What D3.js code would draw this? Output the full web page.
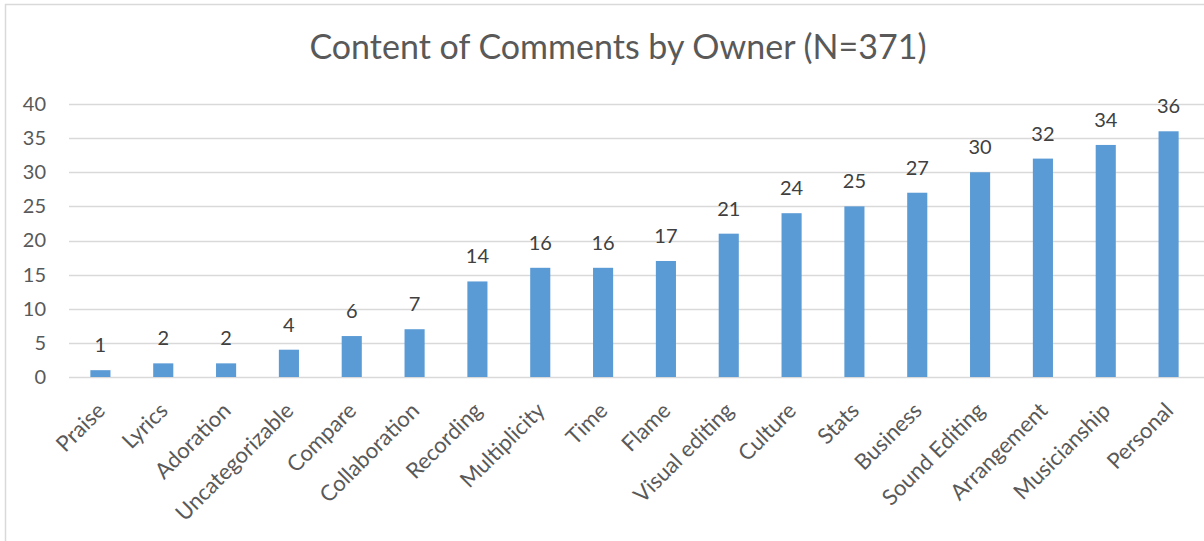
<!DOCTYPE html>
<html>
<head>
<meta charset="utf-8">
<script src="https://cdn.jsdelivr.net/npm/d3@7"></script>
<style>
  html, body { margin: 0; padding: 0; background: #fff; }
  svg { display: block; font-family: Lato, "Open Sans", sans-serif; }
</style>
</head>
<body>
<svg id="chart" width="1204" height="541"></svg>
<script>
// Comment categories, ordered from least to most frequent
const categories = [
  "Praise", "Lyrics", "Adoration", "Uncategorizable", "Compare", "Collaboration",
  "Recording", "Multiplicity", "Time", "Flame", "Visual editing", "Culture",
  "Stats", "Business", "Sound Editing", "Arrangement", "Musicianship", "Personal"
];
const counts = [1, 2, 2, 4, 6, 7, 14, 16, 16, 17, 21, 24, 25, 27, 30, 32, 34, 36];
const yTicks = [0, 5, 10, 15, 20, 25, 30, 35, 40];
const title = "Content of Comments by Owner (N=371)";

const svg = d3.select("#chart");
const W = 1204, H = 541;
const margin = { left: 69, right: 4, top: 104, bottom: 164 };

// Chart frame
svg.append("rect")
  .attr("x", 5.5).attr("y", 4.5)
  .attr("width", W + 10).attr("height", H + 10)
  .attr("fill", "#fff").attr("stroke", "#d9d9d9").attr("stroke-width", 1.5);

const x = d3.scaleBand()
  .domain(categories)
  .range([margin.left, W - margin.right])
  .paddingInner(0.68).paddingOuter(0.34);

const y = d3.scaleLinear()
  .domain([0, 40])
  .range([H - margin.bottom, margin.top]);

// Title
svg.append("text")
  .attr("x", 618).attr("y", 59)
  .attr("text-anchor", "middle")
  .attr("fill", "#595959")
  .style("font-size", "34px")
  .text(title);

// Horizontal gridlines
svg.append("g")
  .selectAll("line")
  .data(yTicks)
  .join("line")
  .attr("x1", margin.left).attr("x2", W)
  .attr("y1", d => Math.round(y(d)) + 0.5).attr("y2", d => Math.round(y(d)) + 0.5)
  .attr("stroke", "#d9d9d9").attr("stroke-width", 1.5);

// Y axis labels
const yAxis = d3.axisLeft(y).tickValues(yTicks).tickSize(0).tickPadding(0);
const gy = svg.append("g")
  .attr("transform", "translate(46,0)")
  .call(yAxis);
gy.select(".domain").remove();
gy.selectAll("text")
  .attr("fill", "#595959")
  .style("font-size", "20px")
  .style("font-family", "Lato, 'Open Sans', sans-serif");

// Bars
svg.append("g")
  .selectAll("rect")
  .data(categories)
  .join("rect")
  .attr("x", d => x(d))
  .attr("width", x.bandwidth())
  .attr("y", (d, i) => y(counts[i]))
  .attr("height", (d, i) => y(0) - y(counts[i]))
  .attr("fill", "#5b9bd5");

// Value labels above bars
svg.append("g")
  .selectAll("text")
  .data(categories)
  .join("text")
  .attr("x", d => x(d) + x.bandwidth() / 2)
  .attr("y", (d, i) => y(counts[i]) - 18)
  .attr("text-anchor", "middle")
  .attr("fill", "#404040")
  .style("font-size", "20px")
  .text((d, i) => counts[i]);

// Rotated category labels
const xAxis = d3.axisBottom(x).tickSize(0).tickPadding(0);
const gx = svg.append("g")
  .attr("transform", `translate(0,${y(0)})`)
  .call(xAxis);
gx.select(".domain").remove();
gx.selectAll("text")
  .attr("fill", "#595959")
  .style("font-size", "22px")
  .style("font-family", "Lato, 'Open Sans', sans-serif")
  .attr("text-anchor", "end")
  .attr("dy", null)
  .attr("y", 0)
  .attr("transform", "translate(6,35) rotate(-45)");
</script>
</body>
</html>
